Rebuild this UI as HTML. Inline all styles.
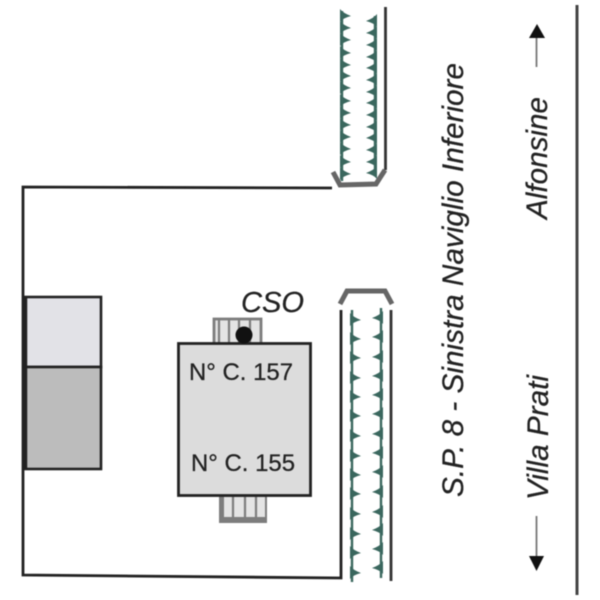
<!DOCTYPE html>
<html><head><meta charset="utf-8"><style>html,body{margin:0;padding:0;background:#fff}svg{display:block;filter:blur(.4px)}text{font-family:"Liberation Sans",Arial,sans-serif;fill:#222;stroke:#222;stroke-width:.25px}</style></head><body>
<svg width="600" height="600" viewBox="0 0 600 600" xmlns="http://www.w3.org/2000/svg">
<defs>
<path id="tr" d="M-2 -7 Q1 -3 9 0 Q1 2 -2 6Z" fill="#3a675e"/>
<path id="tl" d="M2 -7 Q-1 -3 -9 0 Q-1 2 2 6Z" fill="#3a675e"/>
</defs>
<!-- boundary -->
<path d="M332 188L23 187V575L341 578V310" fill="none" stroke="#222" stroke-width="2.800"/>
<!-- left boxes -->
<rect x="25" y="297" width="76" height="70" fill="#e2e2e7" stroke="#222" stroke-width="2.600"/>
<rect x="25" y="367" width="76" height="102" fill="#bcbcbc" stroke="#222" stroke-width="2.600"/>
<path d="M25 297V469" stroke="#222" stroke-width="4.500"/>
<!-- upper stairs -->
<rect x="214" y="319" width="47" height="25" fill="#e4e4e4" stroke="#7d7d7d" stroke-width="2.800"/>
<path d="M219 319V344M229 319V344M239 319V344M250 319V344" stroke="#7d7d7d" stroke-width="2.200"/>
<!-- lower stairs -->
<rect x="220" y="496" width="46" height="26" fill="#e4e4e4" stroke="#7d7d7d" stroke-width="2"/>
<rect x="219" y="517" width="48" height="6" fill="#7d7d7d"/>
<rect x="219" y="496" width="5" height="27" fill="#7d7d7d"/>
<path d="M233 496V518M245 496V518M256 496V518" stroke="#7d7d7d" stroke-width="2.200"/>
<!-- building -->
<rect x="178.500" y="343.500" width="132" height="152" fill="#dcdcdc" stroke="#222" stroke-width="2.800"/>
<circle cx="244" cy="335" r="8.500" fill="#111"/>
<text x="241" y="312" font-size="29" font-style="italic" textLength="63" lengthAdjust="spacingAndGlyphs">CSO</text>
<text x="189" y="380" font-size="24" textLength="104" lengthAdjust="spacingAndGlyphs">N° C. 157</text>
<text x="191" y="471" font-size="24" textLength="104" lengthAdjust="spacingAndGlyphs">N° C. 155</text>
<!-- upper canal -->
<path d="M342 11V181M375 16V176" stroke="#3a675e" stroke-width="2.400"/>
<g>
<use href="#tr" x="342" y="16"/><use href="#tr" x="342" y="28"/><use href="#tr" x="342" y="40"/><use href="#tr" x="342" y="53"/><use href="#tr" x="342" y="65"/><use href="#tr" x="342" y="76"/><use href="#tr" x="342" y="88"/><use href="#tr" x="342" y="101"/><use href="#tr" x="342" y="113"/><use href="#tr" x="342" y="125"/><use href="#tr" x="342" y="137"/><use href="#tr" x="342" y="149"/><use href="#tr" x="342" y="162"/><use href="#tr" x="342" y="174"/>
<use href="#tl" x="375" y="21"/><use href="#tl" x="375" y="33"/><use href="#tl" x="375" y="45"/><use href="#tl" x="375" y="57"/><use href="#tl" x="375" y="68"/><use href="#tl" x="375" y="80"/><use href="#tl" x="375" y="92"/><use href="#tl" x="375" y="103"/><use href="#tl" x="375" y="115"/><use href="#tl" x="375" y="127"/><use href="#tl" x="375" y="138"/><use href="#tl" x="375" y="150"/><use href="#tl" x="375" y="162"/><use href="#tl" x="375" y="173"/>
</g>
<path d="M385.500 7V170" stroke="#333" stroke-width="2.800"/>
<path d="M385 170L376 184L340 185L333 172" fill="none" stroke="#666" stroke-width="5"/>
<!-- lower canal -->
<path d="M352 310V582M381 308V578" stroke="#3a675e" stroke-width="2.400"/>
<g>
<use href="#tr" x="352" y="320"/><use href="#tr" x="352" y="339"/><use href="#tr" x="352" y="358"/><use href="#tr" x="352" y="378"/><use href="#tr" x="352" y="397"/><use href="#tr" x="352" y="416"/><use href="#tr" x="352" y="436"/><use href="#tr" x="352" y="456"/><use href="#tr" x="352" y="475"/><use href="#tr" x="352" y="494"/><use href="#tr" x="352" y="514"/><use href="#tr" x="352" y="534"/><use href="#tr" x="352" y="553"/><use href="#tr" x="352" y="573"/>
<use href="#tl" x="381" y="318"/><use href="#tl" x="381" y="337"/><use href="#tl" x="381" y="357"/><use href="#tl" x="381" y="376"/><use href="#tl" x="381" y="395"/><use href="#tl" x="381" y="414"/><use href="#tl" x="381" y="434"/><use href="#tl" x="381" y="453"/><use href="#tl" x="381" y="472"/><use href="#tl" x="381" y="492"/><use href="#tl" x="381" y="512"/><use href="#tl" x="381" y="530"/><use href="#tl" x="381" y="549"/><use href="#tl" x="381" y="568"/>
</g>
<path d="M391 310V581" stroke="#333" stroke-width="2.800"/>
<path d="M340 304L347 291H385L392 304" fill="none" stroke="#666" stroke-width="5"/>
<!-- road -->
<path d="M577 5V595" stroke="#444" stroke-width="3"/>
<path d="M536.500 38V67M536.500 516V557" stroke="#777" stroke-width="1.800"/>
<path d="M529 38H545L537 24Z" fill="#111"/>
<path d="M529 556H544L536.500 571Z" fill="#111"/>
<!-- labels -->
<text transform="translate(463 497) rotate(-90)" font-size="29.500" font-style="italic" textLength="434" lengthAdjust="spacingAndGlyphs">S.P. 8 - Sinistra Naviglio Inferiore</text>
<text transform="translate(547 219) rotate(-90)" font-size="29.500" font-style="italic" textLength="122" lengthAdjust="spacingAndGlyphs">Alfonsine</text>
<text transform="translate(548 500) rotate(-90)" font-size="29.500" font-style="italic" textLength="125" lengthAdjust="spacingAndGlyphs">Villa Prati</text>
</svg>
</body></html>
